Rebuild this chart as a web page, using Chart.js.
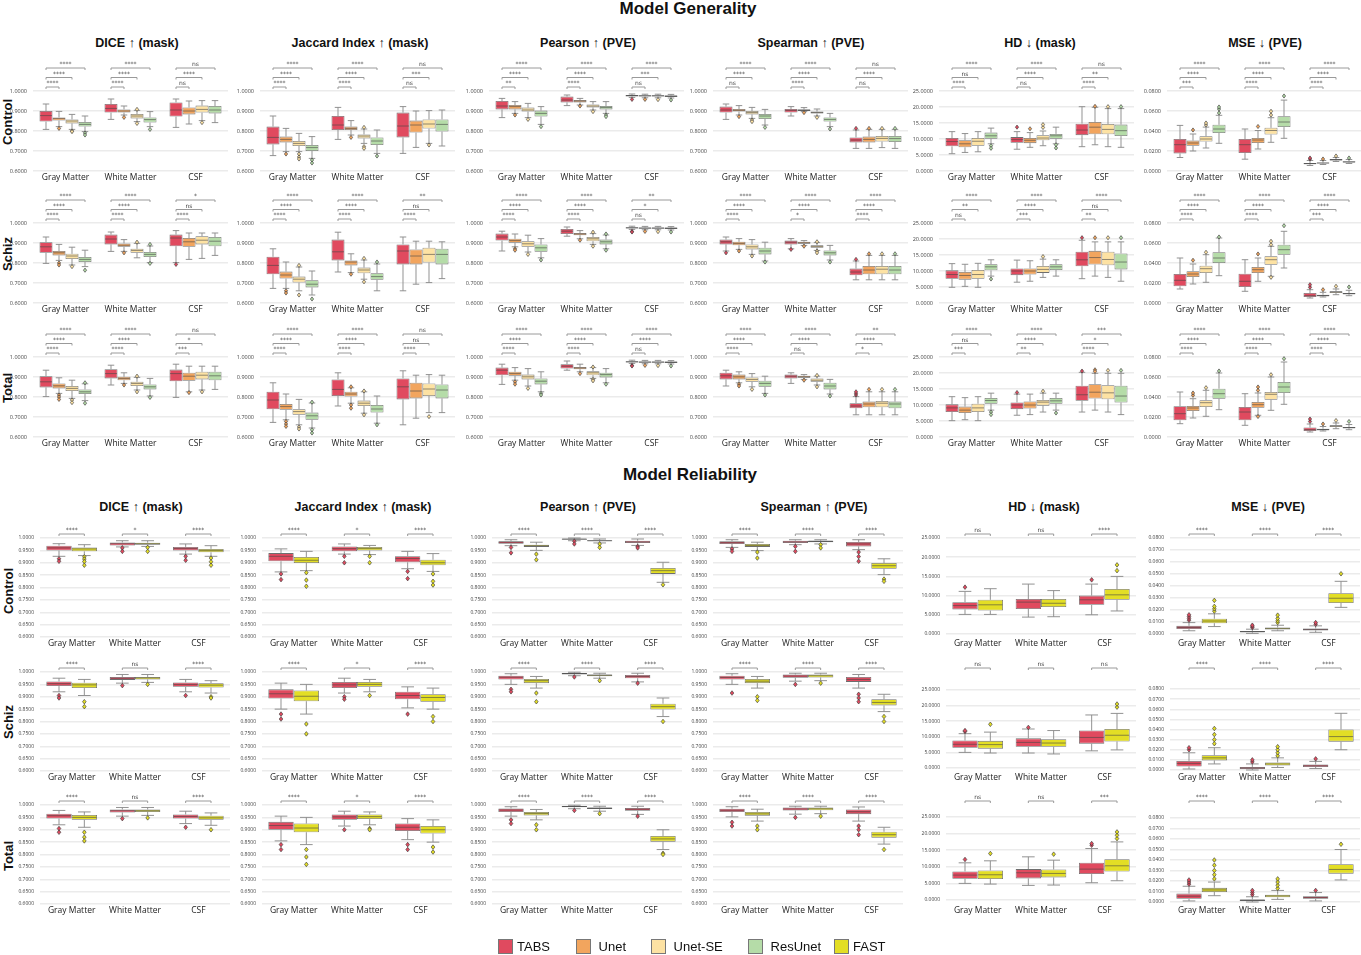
<!DOCTYPE html>
<html><head><meta charset="utf-8">
<script src="https://cdn.jsdelivr.net/npm/chart.js@4.4.1/dist/chart.umd.min.js"></script>
<style>
html,body{margin:0;padding:0;background:#fff;}
body{width:1361px;height:955px;position:relative;overflow:hidden;font-family:'Liberation Sans',Arial,sans-serif;}
.t{position:absolute;font-weight:bold;color:#111;white-space:nowrap;transform:translate(-50%,-50%);}
.main{font-size:17px;}
.col{font-size:12.5px;}
.row{font-size:13px;transform:translate(-50%,-50%) rotate(-90deg);}
canvas{position:absolute;}
.leg{position:absolute;top:939px;height:15px;font-size:13px;color:#111;display:flex;align-items:center;white-space:nowrap;}
.leg i{display:inline-block;width:13px;height:13px;border:1px solid #777;margin-right:4px;}
</style></head><body>
<script>
// ---------------- DATA ----------------
const categories = ['Gray Matter', 'White Matter', 'CSF'];
const genSeries = ['TABS', 'Unet', 'Unet-SE', 'ResUnet'];
const relSeries = ['TABS', 'FAST'];
const legendSeries = ['TABS', 'Unet', 'Unet-SE', 'ResUnet', 'FAST'];
const seriesColors = ['#e04a5f', '#f2a55e', '#fde2a3', '#b5dca8', '#e3de25'];
const metricTitles = ['DICE \u2191 (mask)', 'Jaccard Index \u2191 (mask)', 'Pearson \u2191 (PVE)', 'Spearman \u2191 (PVE)', 'HD \u2193 (mask)', 'MSE \u2193 (PVE)'];
const rowNames = ['Control', 'Schiz', 'Total'];
const sectionTitles = ['Model Generality', 'Model Reliability'];
const unitTicksGen = [0.6, 0.7, 0.8, 0.9, 1.0];
const unitTicksRel = [0.6, 0.65, 0.7, 0.75, 0.8, 0.85, 0.9, 0.95, 1.0];
const hdTicks = [0, 5, 10, 15, 20, 25];
const mseTicksGen = [0, 0.02, 0.04, 0.06, 0.08];
const mseTicksRel = [0, 0.01, 0.02, 0.03, 0.04, 0.05, 0.06, 0.07, 0.08];

// each series: per category [whiskerLow, q1, median, q3, whiskerHigh, [outliers]]
// ---- Generality / Control ----
const gen_control_dice = [
 [[0.808,0.847,0.877,0.900,0.935,[]],[0.858,0.892,0.913,0.935,0.960,[]],[0.818,0.872,0.905,0.943,0.960,[]]],
 [[0.822,0.852,0.862,0.868,0.898,[0.813]],[0.880,0.892,0.900,0.908,0.925,[0.868]],[0.835,0.883,0.900,0.918,0.950,[]]],
 [[0.808,0.838,0.850,0.858,0.883,[0.800,0.797]],[0.847,0.863,0.875,0.885,0.903,[0.908,0.838]],[0.852,0.892,0.908,0.927,0.952,[0.842]]],
 [[0.797,0.822,0.833,0.845,0.875,[0.790,0.780]],[0.822,0.842,0.857,0.868,0.897,[0.808]],[0.842,0.888,0.905,0.925,0.952,[]]]];
const gen_control_jac = [
 [[0.677,0.733,0.768,0.822,0.875,[]],[0.758,0.805,0.830,0.875,0.918,[]],[0.688,0.768,0.825,0.892,0.922,[]]],
 [[0.697,0.743,0.758,0.772,0.813,[0.685]],[0.780,0.805,0.813,0.822,0.852,[0.768]],[0.718,0.792,0.830,0.852,0.900,[]]],
 [[0.697,0.725,0.738,0.750,0.788,[0.685,0.670,0.660]],[0.738,0.763,0.775,0.783,0.810,[0.818,0.722,0.713]],[0.738,0.812,0.835,0.858,0.902,[0.730]]],
 [[0.663,0.700,0.717,0.730,0.772,[0.655,0.640]],[0.688,0.730,0.750,0.768,0.805,[0.675]],[0.725,0.797,0.833,0.858,0.905,[]]]];
const gen_control_pea = [
 [[0.867,0.908,0.925,0.950,0.963,[]],[0.927,0.943,0.955,0.972,0.980,[]],[0.968,0.973,0.977,0.980,0.985,[0.958]]],
 [[0.888,0.908,0.922,0.930,0.947,[0.880]],[0.930,0.943,0.950,0.955,0.963,[0.925]],[0.966,0.972,0.976,0.979,0.984,[0.958]]],
 [[0.867,0.897,0.905,0.917,0.938,[0.858]],[0.905,0.918,0.925,0.933,0.947,[0.897]],[0.966,0.972,0.976,0.979,0.984,[0.957]]],
 [[0.833,0.872,0.888,0.902,0.922,[0.822]],[0.888,0.908,0.918,0.925,0.947,[0.880,0.872]],[0.965,0.970,0.975,0.978,0.983,[0.955]]]];
const gen_control_spe = [
 [[0.858,0.892,0.905,0.922,0.935,[]],[0.875,0.892,0.903,0.910,0.922,[]],[0.713,0.743,0.755,0.768,0.805,[0.813]]],
 [[0.880,0.897,0.903,0.910,0.927,[0.872]],[0.897,0.900,0.905,0.908,0.917,[0.892]],[0.713,0.743,0.758,0.772,0.808,[0.813]]],
 [[0.863,0.883,0.892,0.900,0.918,[0.855,0.847]],[0.875,0.887,0.892,0.897,0.910,[0.868]],[0.717,0.747,0.763,0.775,0.808,[0.813]]],
 [[0.830,0.860,0.875,0.885,0.908,[0.818]],[0.822,0.847,0.858,0.868,0.888,[0.810]],[0.713,0.745,0.762,0.775,0.808,[0.813]]]];
const gen_control_hd = [
 [[5.4,7.7,9.2,10.3,12.3,[]],[6.8,8.8,9.8,10.6,12.3,[13.7]],[7.6,11.2,12.8,14.8,20.1,[]]],
 [[5.8,7.4,8.5,9.6,11.7,[]],[7.4,8.7,9.6,10.3,12.0,[13.2]],[8.2,11.5,13.7,15.3,19.9,[20.2]]],
 [[6.0,7.9,9.3,10.3,12.3,[]],[7.9,9.6,10.3,11.2,12.5,[13.6,14.5]],[7.6,11.5,13.0,14.7,19.5,[20.1]]],
 [[8.5,10.1,11.0,12.0,13.4,[7.9,7.1]],[8.5,10.1,11.0,11.6,13.7,[8.2,7.2]],[7.4,10.9,12.6,14.5,19.5,[20.1]]]];
const gen_control_mse = [
 [[0.0135,0.0176,0.0263,0.0320,0.0456,[]],[0.0118,0.0179,0.0263,0.0320,0.0420,[]],[0.0055,0.0068,0.0074,0.0080,0.0105,[0.012,0.013]]],
 [[0.0200,0.0253,0.0280,0.0304,0.0370,[0.041]],[0.0220,0.0280,0.0310,0.0330,0.0405,[0.0445]],[0.0065,0.0074,0.0080,0.0085,0.0105,[0.012]]],
 [[0.0230,0.0294,0.0320,0.0348,0.0439,[0.046,0.048]],[0.0287,0.0365,0.0405,0.0432,0.0533,[0.056,0.0597]],[0.0095,0.0105,0.0112,0.0120,0.0135,[0.015]]],
 [[0.0277,0.0380,0.0420,0.0462,0.0557,[0.058,0.062,0.064]],[0.0327,0.0439,0.0490,0.0547,0.0709,[0.075]],[0.0075,0.0085,0.0090,0.0098,0.0115,[0.013]]]];
// ---- Generality / Schiz ----
const gen_schiz_dice = [
 [[0.798,0.851,0.881,0.904,0.930,[]],[0.858,0.893,0.920,0.942,0.955,[]],[0.802,0.884,0.925,0.942,0.962,[0.793]]],
 [[0.813,0.838,0.851,0.860,0.893,[0.800,0.790]],[0.858,0.881,0.889,0.898,0.917,[0.851]],[0.818,0.881,0.906,0.925,0.950,[]]],
 [[0.790,0.820,0.835,0.846,0.879,[0.782]],[0.826,0.851,0.863,0.871,0.898,[0.904]],[0.823,0.893,0.914,0.934,0.950,[]]],
 [[0.782,0.805,0.818,0.830,0.864,[0.764]],[0.802,0.830,0.843,0.855,0.885,[0.893,0.798]],[0.838,0.884,0.909,0.930,0.950,[]]]];
const gen_schiz_jac = [
 [[0.673,0.744,0.788,0.831,0.871,[]],[0.755,0.813,0.856,0.917,0.954,[]],[0.661,0.793,0.860,0.893,0.930,[]]],
 [[0.673,0.722,0.740,0.757,0.805,[0.661,0.650]],[0.752,0.788,0.805,0.813,0.846,[0.744]],[0.694,0.793,0.835,0.868,0.909,[]]],
 [[0.661,0.702,0.719,0.732,0.780,[0.788,0.640]],[0.719,0.749,0.765,0.777,0.815,[0.823,0.706]],[0.702,0.802,0.843,0.876,0.909,[]]],
 [[0.640,0.678,0.694,0.714,0.760,[0.620]],[0.661,0.716,0.732,0.749,0.795,[0.805]],[0.722,0.793,0.843,0.871,0.906,[]]]];
const gen_schiz_pea = [
 [[0.860,0.912,0.930,0.947,0.959,[]],[0.934,0.945,0.959,0.970,0.980,[]],[0.968,0.972,0.976,0.979,0.984,[0.958,0.955]]],
 [[0.881,0.901,0.912,0.921,0.945,[0.871,0.864]],[0.921,0.939,0.945,0.950,0.962,[0.914]],[0.966,0.971,0.975,0.978,0.983,[0.958]]],
 [[0.855,0.881,0.896,0.909,0.939,[0.843]],[0.893,0.909,0.921,0.930,0.947,[0.954,0.884]],[0.966,0.971,0.975,0.978,0.983,[0.957]]],
 [[0.826,0.856,0.876,0.893,0.922,[0.815]],[0.871,0.893,0.906,0.917,0.940,[0.945,0.864]],[0.965,0.970,0.974,0.977,0.982,[0.955]]]];
const gen_schiz_spe = [
 [[0.860,0.893,0.906,0.917,0.930,[0.851]],[0.871,0.893,0.904,0.912,0.922,[0.868]],[0.716,0.739,0.755,0.772,0.810,[0.818]]],
 [[0.868,0.889,0.898,0.906,0.922,[0.860]],[0.888,0.896,0.901,0.906,0.912,[0.884]],[0.716,0.744,0.765,0.785,0.838,[0.846]]],
 [[0.843,0.868,0.881,0.893,0.917,[0.835]],[0.863,0.876,0.883,0.889,0.902,[0.906,0.860,0.851]],[0.716,0.744,0.769,0.785,0.838,[0.846]]],
 [[0.810,0.843,0.860,0.876,0.904,[0.805]],[0.815,0.838,0.851,0.863,0.888,[0.805]],[0.716,0.744,0.765,0.785,0.838,[0.846]]]];
const gen_schiz_hd = [
 [[4.9,7.6,8.9,10.2,12.3,[]],[6.5,8.7,10.0,10.8,13.4,[]],[7.6,11.5,13.5,16.0,19.6,[20.4]]],
 [[5.2,7.3,8.6,9.7,12.1,[]],[6.8,8.9,10.0,10.8,13.2,[]],[8.4,12.0,14.2,16.3,19.1,[20.4]]],
 [[4.9,7.6,8.9,10.3,12.4,[]],[8.0,9.4,10.5,11.6,13.7,[14.5]],[8.0,11.8,13.6,16.0,19.1,[20.4]]],
 [[8.4,10.2,11.3,12.1,13.5,[7.5]],[8.4,10.3,11.3,12.1,13.5,[]],[6.8,10.5,12.8,15.5,19.1,[20.4]]]];
const gen_schiz_mse = [
 [[0.0140,0.0167,0.0227,0.0290,0.0450,[]],[0.0117,0.0160,0.0217,0.0293,0.0433,[]],[0.0050,0.0060,0.0073,0.0100,0.0133,[0.0157,0.0183]]],
 [[0.0190,0.0260,0.0290,0.0317,0.0390,[0.0427]],[0.0217,0.0300,0.0333,0.0360,0.0450,[0.0490]],[0.0060,0.0067,0.0073,0.0083,0.0107,[0.0133]]],
 [[0.0207,0.0300,0.0343,0.0373,0.0483,[0.0507]],[0.0267,0.0383,0.0433,0.0467,0.0567,[0.0583,0.0617,0.0257]],[0.0083,0.0100,0.0110,0.0117,0.0140,[0.0167]]],
 [[0.0273,0.0400,0.0450,0.0507,0.0650,[0.0660]],[0.0350,0.0483,0.0533,0.0583,0.0717,[0.0773]],[0.0073,0.0087,0.0093,0.0100,0.0127,[0.0160]]]];
// ---- Generality / Total ----
const gen_total_dice = [
 [[0.802,0.848,0.876,0.904,0.934,[]],[0.860,0.893,0.917,0.939,0.959,[]],[0.798,0.879,0.917,0.937,0.964,[]]],
 [[0.818,0.843,0.856,0.868,0.896,[0.810,0.800,0.788]],[0.868,0.884,0.893,0.901,0.921,[0.860]],[0.826,0.881,0.904,0.921,0.954,[0.822]]],
 [[0.793,0.830,0.843,0.855,0.884,[0.785,0.772]],[0.835,0.855,0.868,0.876,0.898,[0.904,0.826]],[0.835,0.888,0.909,0.926,0.954,[0.826]]],
 [[0.782,0.815,0.826,0.838,0.866,[0.871,0.769]],[0.805,0.838,0.851,0.863,0.893,[0.798]],[0.838,0.884,0.906,0.926,0.954,[]]]];
const gen_total_jac = [
 [[0.673,0.739,0.785,0.826,0.871,[]],[0.755,0.805,0.838,0.888,0.921,[]],[0.661,0.788,0.851,0.893,0.931,[]]],
 [[0.686,0.736,0.752,0.765,0.815,[0.678,0.665,0.653]],[0.769,0.802,0.815,0.826,0.846,[0.760,0.744,0.851]],[0.694,0.793,0.830,0.871,0.909,[]]],
 [[0.661,0.711,0.727,0.739,0.788,[0.650,0.640]],[0.719,0.755,0.769,0.782,0.826,[0.830,0.711]],[0.722,0.805,0.840,0.868,0.912,[0.702]]],
 [[0.645,0.686,0.706,0.722,0.770,[0.774,0.636,0.620]],[0.669,0.722,0.740,0.760,0.805,[0.661]],[0.722,0.793,0.835,0.863,0.909,[]]]];
const gen_total_pea = [
 [[0.863,0.909,0.934,0.947,0.964,[]],[0.934,0.942,0.954,0.964,0.980,[]],[0.968,0.972,0.976,0.979,0.984,[0.958,0.955]]],
 [[0.884,0.906,0.917,0.926,0.947,[0.876,0.864]],[0.926,0.939,0.945,0.950,0.964,[0.917]],[0.966,0.971,0.975,0.978,0.983,[0.958]]],
 [[0.855,0.888,0.901,0.912,0.942,[0.843]],[0.893,0.909,0.921,0.929,0.947,[0.950,0.888,0.881]],[0.966,0.971,0.975,0.978,0.983,[0.957]]],
 [[0.826,0.863,0.879,0.893,0.926,[0.818,0.810]],[0.871,0.898,0.912,0.921,0.942,[0.864]],[0.965,0.970,0.974,0.977,0.982,[0.955]]]];
const gen_total_spe = [
 [[0.855,0.888,0.906,0.921,0.934,[]],[0.868,0.893,0.904,0.912,0.921,[]],[0.711,0.744,0.755,0.769,0.802,[0.810,0.818,0.826]]],
 [[0.871,0.888,0.901,0.912,0.926,[0.864,0.855]],[0.888,0.896,0.901,0.906,0.912,[0.884]],[0.711,0.749,0.765,0.777,0.826,[0.838]]],
 [[0.851,0.876,0.888,0.898,0.917,[0.838]],[0.860,0.876,0.884,0.893,0.904,[0.908,0.851]],[0.711,0.749,0.769,0.780,0.826,[0.838]]],
 [[0.818,0.851,0.868,0.881,0.904,[0.810]],[0.815,0.838,0.855,0.871,0.888,[0.805]],[0.711,0.744,0.765,0.777,0.826,[0.838]]]];
const gen_total_hd = [
 [[5.1,7.8,9.1,10.2,12.6,[]],[6.8,8.7,10.0,10.8,13.4,[13.9]],[7.8,11.3,13.2,16.0,20.2,[20.6]]],
 [[5.4,7.5,8.4,9.5,12.3,[]],[7.0,8.9,10.0,11.1,13.4,[]],[8.4,12.0,14.0,16.5,19.9,[21.0,20.5]]],
 [[5.1,7.8,9.1,10.4,12.6,[]],[7.8,9.8,10.9,11.6,13.7,[14.3]],[7.8,11.8,13.8,16.2,19.9,[20.8]]],
 [[8.4,10.4,11.4,12.2,13.7,[7.8,7.0]],[8.4,10.4,11.3,12.2,13.7,[7.5]],[7.0,10.8,12.8,16.0,19.9,[20.8]]]];
const gen_total_mse = [
 [[0.0133,0.0167,0.0233,0.0307,0.0450,[]],[0.0117,0.0167,0.0250,0.0300,0.0433,[]],[0.0050,0.0060,0.0073,0.0095,0.0130,[0.0155,0.0180]]],
 [[0.0190,0.0260,0.0290,0.0310,0.0383,[0.0417,0.0440]],[0.0217,0.0293,0.0323,0.0350,0.0440,[0.0467,0.0500,0.0205]],[0.0060,0.0067,0.0073,0.0083,0.0105,[0.0130]]],
 [[0.0207,0.0300,0.0343,0.0367,0.0467,[0.0493]],[0.0267,0.0373,0.0427,0.0450,0.0600,[0.0623]],[0.0083,0.0100,0.0110,0.0117,0.0140,[0.0165]]],
 [[0.0273,0.0383,0.0433,0.0483,0.0640,[0.0660]],[0.0327,0.0440,0.0500,0.0550,0.0750,[0.0783]],[0.0073,0.0087,0.0093,0.0100,0.0125,[0.0155]]]];
// ---- Reliability / Control ----
const rel_control_dice = [
 [[0.926,0.949,0.960,0.969,0.977,[0.916,0.906]],[0.964,0.970,0.977,0.982,0.989,[0.960,0.946]],[0.935,0.949,0.957,0.964,0.976,[0.926,0.910]]],
 [[0.929,0.946,0.956,0.962,0.973,[0.924,0.915,0.905,0.890]],[0.966,0.973,0.977,0.981,0.989,[0.962,0.946]],[0.926,0.942,0.949,0.956,0.969,[0.919,0.904,0.890]]]];
const rel_control_jac = [
 [[0.863,0.906,0.926,0.939,0.956,[0.855,0.832]],[0.935,0.946,0.957,0.966,0.976,[0.926,0.900]],[0.876,0.902,0.917,0.926,0.946,[0.865,0.836]]],
 [[0.868,0.899,0.910,0.923,0.946,[0.860,0.830,0.805]],[0.933,0.949,0.957,0.964,0.970,[0.926,0.900]],[0.865,0.890,0.900,0.912,0.937,[0.855,0.825,0.810]]]];
const rel_control_pea = [
 [[0.969,0.977,0.983,0.987,0.993,[0.962,0.940]],[0.989,0.993,0.996,0.997,1.000,[0.987,0.976]],[0.970,0.980,0.984,0.989,0.996,[0.966,0.960]]],
 [[0.950,0.964,0.969,0.973,0.983,[0.935,0.912]],[0.980,0.987,0.989,0.991,0.996,[0.976,0.962]],[0.821,0.855,0.868,0.879,0.902,[0.811]]]];
const rel_control_spe = [
 [[0.962,0.976,0.981,0.987,0.993,[0.956,0.946]],[0.973,0.980,0.984,0.989,0.993,[0.966,0.946]],[0.953,0.966,0.976,0.984,0.993,[0.943,0.925,0.906]]],
 [[0.949,0.964,0.970,0.976,0.983,[0.943,0.919]],[0.976,0.983,0.987,0.989,0.993,[0.973,0.960]],[0.852,0.876,0.888,0.899,0.916,[0.834,0.825]]]];
const rel_control_hd = [
 [[5.1,6.4,7.4,8.3,11.1,[12.2]],[4.4,6.5,8.3,9.1,13.0,[]],[5.0,7.6,8.9,10.0,13.0,[14.1]]],
 [[5.1,6.1,7.6,8.9,11.8,[]],[4.5,7.0,8.0,9.1,11.3,[]],[6.0,8.9,10.2,11.7,15.0,[16.5,18.0]]]];
const rel_control_mse = [
 [[0.0027,0.0041,0.0054,0.0068,0.0095,[0.0115,0.0130,0.0145,0.0160]],[0.0005,0.0014,0.0019,0.0024,0.0040,[0.0054,0.0065,0.0073]],[0.0014,0.0030,0.0038,0.0046,0.0068,[0.0081,0.0095]]],
 [[0.0062,0.0090,0.0108,0.0127,0.0168,[0.0190,0.0210,0.0230,0.0280]],[0.0027,0.0038,0.0046,0.0054,0.0073,[0.0095,0.0110,0.0130,0.0157]],[0.0222,0.0258,0.0298,0.0339,0.0439,[0.0502]]]];
// ---- Reliability / Schiz ----
const rel_schiz_dice = [
 [[0.920,0.943,0.953,0.962,0.975,[0.905,0.895]],[0.955,0.968,0.975,0.980,0.990,[0.945]],[0.920,0.940,0.950,0.958,0.970,[0.905]]],
 [[0.905,0.935,0.948,0.957,0.970,[0.880,0.860]],[0.958,0.970,0.976,0.980,0.990,[0.950]],[0.915,0.937,0.947,0.955,0.965,[0.900,0.895]]]];
const rel_schiz_jac = [
 [[0.850,0.893,0.912,0.930,0.955,[0.830,0.810]],[0.915,0.935,0.948,0.960,0.975,[0.900,0.890]],[0.855,0.890,0.905,0.920,0.940,[0.830]]],
 [[0.830,0.882,0.902,0.925,0.950,[0.790,0.750]],[0.920,0.940,0.950,0.960,0.970,[0.905]],[0.850,0.880,0.897,0.910,0.935,[0.820,0.800]]]];
const rel_schiz_pea = [
 [[0.950,0.970,0.979,0.985,0.993,[0.930,0.920]],[0.985,0.990,0.994,0.996,0.999,[0.980]],[0.960,0.975,0.982,0.988,0.995,[0.955]]],
 [[0.935,0.955,0.965,0.972,0.982,[0.915,0.880]],[0.975,0.983,0.987,0.990,0.995,[0.965]],[0.820,0.848,0.860,0.872,0.895,[0.800]]]];
const rel_schiz_spe = [
 [[0.950,0.970,0.978,0.985,0.993,[0.915]],[0.963,0.977,0.984,0.990,0.995,[0.950]],[0.935,0.960,0.970,0.980,0.990,[0.910,0.895,0.880]]],
 [[0.935,0.955,0.963,0.972,0.982,[0.900,0.885]],[0.965,0.978,0.985,0.990,0.995,[0.955]],[0.840,0.865,0.877,0.890,0.910,[0.820,0.800]]]];
const rel_schiz_hd = [
 [[5.0,6.5,7.6,8.8,11.0,[11.7,12.0]],[4.8,6.8,8.2,9.5,12.5,[13.0]],[5.5,7.8,9.8,12.0,17.0,[]]],
 [[4.8,6.2,7.5,8.7,11.5,[14.0]],[4.5,6.8,8.0,9.2,12.0,[]],[5.8,8.5,10.5,12.5,17.5,[19.5,20.5]]]];
const rel_schiz_mse = [
 [[0.0010,0.0035,0.0065,0.0090,0.0170,[0.0200,0.0220]],[0.0000,0.0010,0.0020,0.0030,0.0060,[0.0080,0.0100]],[0.0015,0.0030,0.0042,0.0055,0.0085,[0.0110]]],
 [[0.0060,0.0095,0.0120,0.0145,0.0220,[0.0260,0.0300,0.0350,0.0410]],[0.0025,0.0045,0.0060,0.0075,0.0120,[0.0140,0.0170,0.0200,0.0230]],[0.0200,0.0280,0.0330,0.0400,0.0560,[]]]];
// ---- Reliability / Total ----
const rel_total_dice = [
 [[0.920,0.945,0.957,0.965,0.978,[0.905,0.890]],[0.955,0.970,0.977,0.982,0.990,[0.945]],[0.925,0.945,0.954,0.962,0.975,[0.910]]],
 [[0.910,0.940,0.950,0.960,0.972,[0.890,0.870,0.855]],[0.958,0.972,0.977,0.982,0.990,[0.948]],[0.918,0.940,0.948,0.957,0.968,[0.900]]]];
const rel_total_jac = [
 [[0.855,0.900,0.917,0.932,0.955,[0.840,0.820]],[0.915,0.940,0.952,0.962,0.975,[0.900]],[0.860,0.895,0.910,0.925,0.945,[0.840,0.820]]],
 [[0.840,0.890,0.907,0.925,0.950,[0.820,0.790,0.760]],[0.920,0.943,0.953,0.962,0.972,[0.905,0.900]],[0.850,0.885,0.900,0.915,0.940,[0.830,0.810]]]];
const rel_total_pea = [
 [[0.955,0.972,0.980,0.986,0.993,[0.940,0.925]],[0.985,0.991,0.994,0.996,0.999,[0.978]],[0.962,0.977,0.983,0.988,0.995,[0.955]]],
 [[0.940,0.958,0.966,0.972,0.982,[0.920,0.900]],[0.975,0.984,0.987,0.990,0.995,[0.965]],[0.820,0.852,0.863,0.875,0.900,[0.805,0.800]]]];
const rel_total_spe = [
 [[0.952,0.972,0.979,0.985,0.993,[0.930,0.915]],[0.963,0.978,0.984,0.990,0.995,[0.950]],[0.935,0.963,0.973,0.982,0.992,[0.915,0.900,0.880]]],
 [[0.935,0.957,0.964,0.972,0.983,[0.915,0.900]],[0.965,0.979,0.985,0.990,0.995,[0.955]],[0.842,0.868,0.880,0.892,0.910,[0.820]]]];
const rel_total_hd = [
 [[5.0,6.4,7.5,8.6,11.2,[12.2]],[4.4,6.5,8.2,9.3,13.0,[]],[5.2,7.8,9.3,11.2,15.5,[16.5,17.0]]],
 [[4.8,6.3,7.6,8.9,11.8,[14.0]],[4.5,6.8,8.0,9.2,12.0,[13.8]],[5.8,8.6,10.3,12.3,17.5,[18.5,19.5,20.5]]]];
const rel_total_mse = [
 [[0.0010,0.0030,0.0055,0.0080,0.0150,[0.0170,0.0190,0.0210]],[0.0000,0.0010,0.0018,0.0025,0.0050,[0.0070,0.0090,0.0110]],[0.0010,0.0030,0.0042,0.0055,0.0090,[0.0110]]],
 [[0.0060,0.0095,0.0115,0.0135,0.0190,[0.0220,0.0260,0.0300,0.0350,0.0400]],[0.0025,0.0045,0.0058,0.0070,0.0110,[0.0130,0.0160,0.0190,0.0220]],[0.0210,0.0270,0.0310,0.0360,0.0500,[0.0550]]]];

// significance labels: gen -> per metric, per category [vs Unet, vs Unet-SE, vs ResUnet]; rel -> per metric, per category (TABS vs FAST)
const gen_control_sig = [
 [['****','****','****'],['****','****','****'],['ns','****','ns']],
 [['****','****','****'],['****','****','****'],['ns','***','ns']],
 [['**','****','****'],['****','****','****'],['ns','***','****']],
 [['ns','****','****'],['****','****','****'],['ns','****','ns']],
 [['****','ns','****'],['ns','****','****'],['****','**','ns']],
 [['***','****','****'],['****','****','****'],['****','****','****']]];
const gen_schiz_sig = [
 [['****','****','****'],['****','****','****'],['****','ns','*']],
 [['****','****','****'],['****','****','****'],['****','ns','**']],
 [['****','****','****'],['****','****','****'],['ns','*','**']],
 [['****','****','****'],['*','****','****'],['****','****','****']],
 [['ns','**','****'],['***','****','****'],['**','ns','****']],
 [['****','****','****'],['****','****','****'],['***','****','****']]];
const gen_total_sig = [
 [['****','****','****'],['****','****','****'],['***','*','ns']],
 [['****','****','****'],['****','****','****'],['****','ns','ns']],
 [['****','****','****'],['****','****','****'],['ns','****','****']],
 [['****','****','****'],['ns','****','****'],['*','****','**']],
 [['***','ns','****'],['**','****','****'],['****','*','***']],
 [['****','****','****'],['****','****','****'],['****','****','****']]];
const rel_control_sig = [['****','*','****'],['****','*','****'],['****','****','****'],['****','****','****'],['ns','ns','****'],['****','****','****']];
const rel_schiz_sig = [['****','ns','****'],['****','*','****'],['****','****','****'],['****','****','****'],['ns','ns','ns'],['****','****','****']];
const rel_total_sig = [['****','ns','****'],['****','*','****'],['****','****','****'],['****','****','****'],['ns','ns','***'],['****','****','****']];

// ---------------- LAYOUT ----------------
const genData = [
 [gen_control_dice, gen_control_jac, gen_control_pea, gen_control_spe, gen_control_hd, gen_control_mse],
 [gen_schiz_dice, gen_schiz_jac, gen_schiz_pea, gen_schiz_spe, gen_schiz_hd, gen_schiz_mse],
 [gen_total_dice, gen_total_jac, gen_total_pea, gen_total_spe, gen_total_hd, gen_total_mse]];
const relData = [
 [rel_control_dice, rel_control_jac, rel_control_pea, rel_control_spe, rel_control_hd, rel_control_mse],
 [rel_schiz_dice, rel_schiz_jac, rel_schiz_pea, rel_schiz_spe, rel_schiz_hd, rel_schiz_mse],
 [rel_total_dice, rel_total_jac, rel_total_pea, rel_total_spe, rel_total_hd, rel_total_mse]];
const genSig = [gen_control_sig, gen_schiz_sig, gen_total_sig];
const relSig = [rel_control_sig, rel_schiz_sig, rel_total_sig];

const genColLeft = [33, 259.5, 488.5, 712.5, 938.5, 1166.5], genPlotW = 195;
const relColLeft = [40, 262, 492, 713, 946, 1170], relPlotW = 190;
const genRowTop = [91, 223, 357], genPlotH = 80;
const relRowTop = [538, 672, 805], relPlotH = 99;
const relHdSpan = [[538, 634], [690, 768], [817, 900]];
const relMseSpan = [[538, 634], [689, 770], [818, 902]];
const AXW = 44;

function addText(txt, cls, x, y) {
  const d = document.createElement('div');
  d.className = 't ' + cls; d.textContent = txt;
  d.style.left = x + 'px'; d.style.top = y + 'px';
  document.body.appendChild(d);
}

function makePanel(p) {
  const canvasTop = p.rowTop - 42;
  const padTop = p.axisTop - canvasTop;
  const plotH = p.axisBottom - p.axisTop;
  const cw = AXW + p.w + 6, ch = padTop + plotH + 22;
  const canvas = document.createElement('canvas');
  canvas.width = cw; canvas.height = ch;
  canvas.style.left = (p.left - AXW) + 'px';
  canvas.style.top = canvasTop + 'px';
  canvas.style.width = cw + 'px'; canvas.style.height = ch + 'px';
  document.body.appendChild(canvas);
  const bracketBase = p.rowTop - 4 - canvasTop;
  const xpad = (p.unitBottom - p.axisBottom) + 1;
  const datasets = p.series.map((s, i) => ({
    label: s,
    data: p.data[i].map(b => [b[1], b[3]]),
    stats: p.data[i],
    backgroundColor: seriesColors[legendSeries.indexOf(s)],
    borderColor: 'rgba(85,85,85,0.85)',
    borderWidth: 0.8,
    borderSkipped: false,
    categoryPercentage: 0.8,
    barPercentage: 1.0
  }));
  const ticks = p.ticks;
  const plugin = {
    id: 'boxExtras',
    afterDatasetsDraw(chart) {
      const ctx = chart.ctx, ys = chart.scales.y;
      ctx.save();
      chart.data.datasets.forEach((ds, i) => {
        const meta = chart.getDatasetMeta(i);
        meta.data.forEach((el, j) => {
          const st = ds.stats[j];
          const x = el.x, w = el.width;
          const yLo = ys.getPixelForValue(st[0]), yQ1 = ys.getPixelForValue(st[1]);
          const yMed = ys.getPixelForValue(st[2]), yQ3 = ys.getPixelForValue(st[3]);
          const yHi = ys.getPixelForValue(st[4]);
          ctx.strokeStyle = 'rgba(140,140,140,0.95)'; ctx.lineWidth = 1;
          ctx.beginPath();
          ctx.moveTo(x, yQ3); ctx.lineTo(x, yHi);
          ctx.moveTo(x, yQ1); ctx.lineTo(x, yLo);
          ctx.moveTo(x - w / 4, yHi); ctx.lineTo(x + w / 4, yHi);
          ctx.moveTo(x - w / 4, yLo); ctx.lineTo(x + w / 4, yLo);
          ctx.stroke();
          ctx.strokeStyle = 'rgba(70,70,70,0.6)'; ctx.lineWidth = 1;
          ctx.beginPath(); ctx.moveTo(x - w / 2 + 0.5, yMed); ctx.lineTo(x + w / 2 - 0.5, yMed); ctx.stroke();
          const dw = p.gen ? 1.6 : 1.8, dh = p.gen ? 2.1 : 2.3;
          ctx.fillStyle = ds.backgroundColor; ctx.strokeStyle = 'rgba(55,55,55,0.9)'; ctx.lineWidth = 0.7;
          st[5].forEach(v => {
            const yo = ys.getPixelForValue(v);
            ctx.beginPath();
            ctx.moveTo(x, yo - dh); ctx.lineTo(x + dw, yo); ctx.lineTo(x, yo + dh); ctx.lineTo(x - dw, yo);
            ctx.closePath(); ctx.fill(); ctx.stroke();
          });
        });
      });
      ctx.restore();
    },
    afterDraw(chart) {
      const ctx = chart.ctx;
      ctx.save();
      const m0 = chart.getDatasetMeta(0);
      p.sig.forEach((labs, j) => {
        const list = Array.isArray(labs) ? labs : [labs];
        list.forEach((lab, k) => {
          const x1 = m0.data[j].x, x2 = chart.getDatasetMeta(k + 1).data[j].x;
          const y = bracketBase - k * 9.5;
          ctx.strokeStyle = '#9a9a9a'; ctx.lineWidth = 1;
          ctx.beginPath();
          ctx.moveTo(x1, y + 2); ctx.lineTo(x1, y); ctx.lineTo(x2, y); ctx.lineTo(x2, y + 2);
          ctx.stroke();
          ctx.fillStyle = '#444'; ctx.font = '6px "DejaVu Sans"';
          ctx.textAlign = 'center'; ctx.textBaseline = 'bottom';
          ctx.fillText(lab, (x1 + x2) / 2, y - 0.3);
        });
      });
      ctx.restore();
    }
  };
  new Chart(canvas, {
    type: 'bar',
    data: { labels: categories, datasets },
    options: {
      responsive: false, animation: false, events: [],
      layout: { padding: { top: padTop, left: 0, right: 6, bottom: 0 } },
      plugins: { legend: { display: false }, tooltip: { enabled: false } },
      scales: {
        x: {
          grid: { display: false, drawTicks: false }, border: { display: false },
          ticks: { font: { family: 'Open Sans', size: 8.5 }, color: '#222', padding: xpad, maxRotation: 0, autoSkip: false },
          afterFit: s => { s.height = 22; }
        },
        y: {
          min: ticks[0], max: ticks[ticks.length - 1],
          afterBuildTicks: s => { s.ticks = ticks.map(v => ({ value: v })); },
          ticks: { callback: v => Number(v).toFixed(4), font: { family: 'Open Sans', size: p.gen ? 5.5 : 5 }, color: '#444', padding: 6 },
          grid: { color: '#ebebeb', lineWidth: 1.5, drawTicks: false }, border: { display: false },
          afterFit: s => { s.width = AXW; }
        }
      }
    },
    plugins: [plugin]
  });
}

// titles
addText(sectionTitles[0], 'main', 688, 9);
addText(sectionTitles[1], 'main', 690, 475);
const genTitleX = [137, 360, 588, 811, 1040, 1265];
const relTitleX = [141, 363, 588, 814, 1044, 1268];
metricTitles.forEach((m, c) => { addText(m, 'col', genTitleX[c], 43); addText(m, 'col', relTitleX[c], 507); });
const genRowLabelY = [122, 254, 388], relRowLabelY = [591, 722, 856];
rowNames.forEach((r, i) => { addText(r, 'row', 7, genRowLabelY[i]); addText(r, 'row', 8, relRowLabelY[i]); });

// generality panels
for (let r = 0; r < 3; r++) {
  for (let c = 0; c < 6; c++) {
    const tk = c === 4 ? hdTicks : (c === 5 ? mseTicksGen : unitTicksGen);
    makePanel({
      gen: true, left: genColLeft[c], w: genPlotW, rowTop: genRowTop[r],
      axisTop: genRowTop[r], axisBottom: genRowTop[r] + genPlotH, unitBottom: genRowTop[r] + genPlotH,
      series: genSeries, data: genData[r][c], ticks: tk, sig: genSig[r][c]
    });
  }
}
// reliability panels
for (let r = 0; r < 3; r++) {
  for (let c = 0; c < 6; c++) {
    let tk = unitTicksRel, span = [relRowTop[r], relRowTop[r] + relPlotH];
    if (c === 4) { tk = hdTicks; span = relHdSpan[r]; }
    if (c === 5) { tk = mseTicksRel; span = relMseSpan[r]; }
    makePanel({
      gen: false, left: relColLeft[c], w: relPlotW, rowTop: relRowTop[r],
      axisTop: span[0], axisBottom: span[1], unitBottom: relRowTop[r] + relPlotH,
      series: relSeries, data: relData[r][c], ticks: tk, sig: relSig[r][c]
    });
  }
}

// legend
const legX = [498, 576, 651, 748, 834];
legendSeries.forEach((s, i) => {
  const d = document.createElement('div');
  d.className = 'leg'; d.style.left = legX[i] + 'px';
  const b = document.createElement('i'); b.style.background = seriesColors[i];
  d.appendChild(b); d.appendChild(document.createTextNode((i === 1 || i === 2 || i === 3) ? '\u00a0' + s : s));
  document.body.appendChild(d);
});
</script>
</body></html>
